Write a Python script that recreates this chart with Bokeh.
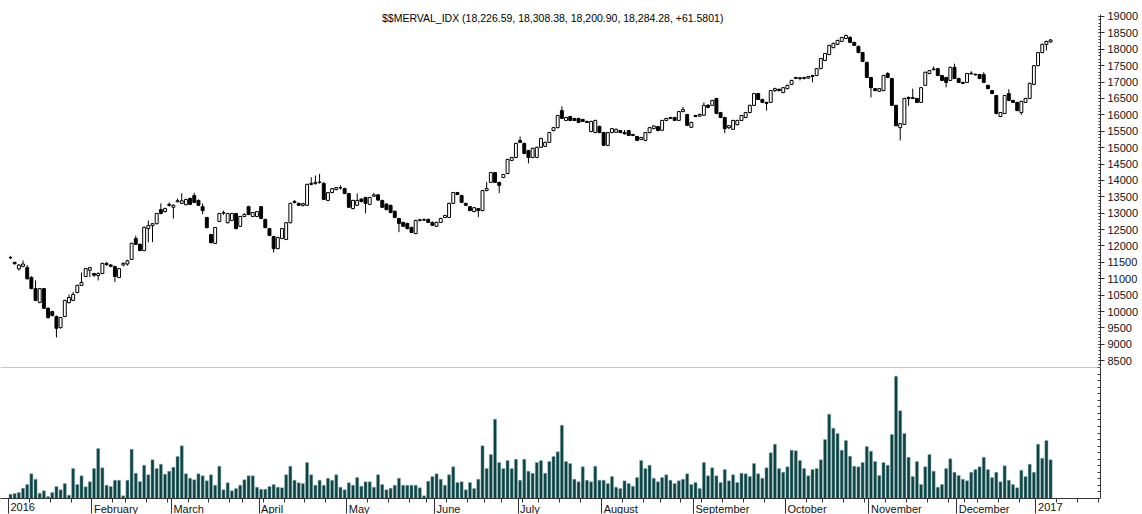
import numpy as np
from bokeh.plotting import figure
from bokeh.models import (FixedTicker, CustomJSTickFormatter, Label, Span,
                          Range1d, ColumnDataSource)
from bokeh.core.properties import value
from bokeh.layouts import column
from bokeh.embed import file_html
from bokeh.resources import INLINE

# ---------------- data ----------------
title_text = "$$MERVAL_IDX (18,226.59, 18,308.38, 18,200.90, 18,284.28, +61.5801)"

open_ = [
    11650, 11500, 11300, 11380, 11340, 11040, 10700, 10280, 10700, 10100,
    10000, 9850, 9510, 9850, 10270, 10340, 10580, 10800, 11070, 11260,
    11160, 11100, 11160, 11470, 11420, 11370, 11040, 11420, 11450, 11590,
    12230, 12050, 11860, 12530, 12620, 12680, 13110, 13050, 13270, 13180,
    13350, 13300, 13260, 13450, 13540, 13390, 13200, 12870, 12350, 12080,
    12750, 13000, 12710, 12780, 12990, 12600, 12900, 13200, 12900, 12900,
    13200, 12810, 12530, 12290, 11920, 12230, 12200, 12710, 13360, 13300,
    13240, 13240, 13880, 13900, 13940, 13910, 13390, 13630, 13720, 13780,
    13750, 13600, 13140, 13240, 13430, 13480, 13270, 13520, 13560, 13390,
    13280, 13240, 13060, 12840, 12720, 12690, 12565, 12380, 12780, 12800,
    12810, 12720, 12600, 12720, 12870, 12870, 13300, 13630, 13540, 13300,
    13200, 13050, 13140, 13080, 13690, 13940, 14240, 13940, 14090, 14210,
    14610, 14700, 15220, 15130, 14910, 14700, 14700, 15010, 15040, 15160,
    15520, 15610, 16130, 15830, 15950, 15890, 15890, 15860, 15800, 15490,
    15460, 15650, 15460, 15070, 15460, 15470, 15520, 15460, 15520, 15400,
    15340, 15250, 15220, 15460, 15580, 15640, 15530, 15830, 15890, 15920,
    15830, 16100, 16010, 15620, 15980, 15960, 15990, 16290, 16290, 16500,
    16070, 15920, 15610, 15560, 15700, 15830, 15920, 16070, 16290, 16650,
    16470, 16380, 16380, 16740, 16780, 16680, 16800, 16930, 17110, 17130,
    17110, 17120, 17170, 17200, 17410, 17660, 17840, 18050, 18150, 18240,
    18330, 18360, 18210, 18090, 17900, 17600, 17140, 16800, 16720, 16740,
    17260, 17110, 16290, 15610, 15710, 16530, 16500, 16500, 16380, 16900,
    17260, 17380, 17410, 17200, 17140, 17050, 17450, 17110, 16990, 16990,
    17250, 17240, 17230, 17230, 16900, 16740, 16590, 15950, 16040, 16650,
    16440, 16380, 16070, 16380, 16500, 16930, 17500, 17900, 18150, 18226.59,
]

high = [
    11700, 11520, 11450, 11560, 11420, 11080, 10950, 10720, 10720, 10130,
    10020, 9880, 9840, 10360, 10520, 10600, 10820, 11190, 11330, 11350,
    11180, 11200, 11490, 11520, 11450, 11400, 11330, 11500, 11580, 12100,
    12320, 12080, 12600, 12780, 12700, 13010, 13300, 13170, 13330, 13270,
    13450, 13610, 13440, 13480, 13620, 13420, 13300, 12890, 12370, 12580,
    13010, 13080, 13010, 13010, 13010, 12920, 13000, 13230, 13040, 13070,
    13220, 12830, 12550, 12310, 12280, 12550, 12730, 13320, 13400, 13330,
    13320, 13900, 14100, 14150, 14200, 13950, 13650, 13770, 13800, 13850,
    13780, 13620, 13410, 13600, 13460, 13500, 13500, 13620, 13580, 13410,
    13300, 13260, 13080, 12860, 12740, 12710, 12590, 12800, 12830, 12840,
    12840, 12750, 12740, 12860, 12950, 13320, 13650, 13650, 13560, 13320,
    13220, 13190, 13160, 13710, 13950, 14260, 14260, 13960, 14200, 14660,
    14720, 15150, 15340, 15150, 14930, 15000, 15030, 15300, 15180, 15480,
    15630, 16000, 16260, 15940, 15970, 15910, 15910, 15880, 15820, 15820,
    15850, 15670, 15480, 15480, 15600, 15580, 15540, 15540, 15540, 15420,
    15360, 15330, 15480, 15630, 15680, 15660, 15850, 15910, 15940, 15940,
    16120, 16240, 16030, 15790, 16000, 16040, 16380, 16330, 16460, 16520,
    16090, 15940, 15690, 15850, 15850, 16000, 16090, 16310, 16670, 16670,
    16490, 16400, 16760, 16830, 16800, 16850, 16920, 17070, 17160, 17150,
    17160, 17190, 17220, 17430, 17740, 17890, 18140, 18200, 18290, 18380,
    18450, 18400, 18230, 18110, 17920, 17620, 17160, 16820, 16820, 17220,
    17300, 17130, 16310, 15750, 16520, 16560, 16800, 16520, 16850, 17320,
    17370, 17480, 17430, 17220, 17160, 17470, 17560, 17130, 17010, 17280,
    17330, 17260, 17250, 17300, 16920, 16760, 16610, 16090, 16610, 16780,
    16460, 16400, 16430, 16520, 16980, 17520, 17920, 18170, 18260, 18308.38,
]

low = [
    11600, 11430, 11250, 11350, 10980, 10680, 10320, 10250, 10080, 9780,
    9850, 9210, 9480, 9830, 10250, 10320, 10560, 10780, 11050, 11050,
    11060, 10950, 11140, 11400, 11350, 10900, 11020, 11380, 11400, 11570,
    12030, 11840, 11840, 12110, 12120, 12660, 12970, 13020, 13200, 12840,
    13330, 13280, 13240, 13250, 13310, 13220, 12970, 12540, 12080, 12060,
    12730, 12950, 12690, 12760, 12510, 12580, 12880, 12940, 12880, 12880,
    12820, 12540, 12300, 11800, 11900, 12210, 12180, 12690, 13300, 13220,
    13200, 13220, 13850, 13880, 13900, 13400, 13370, 13610, 13700, 13720,
    13580, 13160, 13120, 13220, 13330, 13000, 13250, 13500, 13380, 13160,
    13090, 13000, 12850, 12420, 12580, 12510, 12390, 12360, 12750, 12760,
    12700, 12610, 12580, 12700, 12850, 12850, 13280, 13550, 13310, 13220,
    13060, 13030, 12880, 13060, 13670, 13920, 13920, 13610, 14070, 14190,
    14590, 14680, 15140, 14800, 14520, 14680, 14680, 14990, 15020, 15140,
    15500, 15590, 15870, 15810, 15810, 15810, 15750, 15780, 15750, 15470,
    15440, 15440, 15050, 15050, 15440, 15450, 15440, 15400, 15350, 15350,
    15200, 15230, 15200, 15440, 15560, 15500, 15510, 15810, 15870, 15810,
    15810, 16080, 15660, 15600, 15930, 15940, 15970, 16200, 16270, 16020,
    15900, 15440, 15560, 15540, 15680, 15810, 15900, 16050, 16270, 16450,
    16360, 16130, 16360, 16700, 16720, 16660, 16780, 16910, 17090, 17050,
    17080, 17100, 16990, 17180, 17390, 17640, 17820, 18030, 18130, 18220,
    18310, 18190, 18100, 17880, 17610, 17120, 16530, 16720, 16700, 16720,
    17120, 16270, 15650, 15220, 15690, 16280, 16480, 16360, 16360, 16880,
    17240, 17350, 17180, 17030, 16840, 17030, 17090, 16970, 16940, 16970,
    17230, 17200, 17090, 16970, 16780, 16630, 16020, 15930, 16020, 16420,
    16360, 16110, 16000, 16360, 16480, 16910, 17480, 17880, 17960, 18200.90,
]

close = [
    11640, 11460, 11420, 11450, 11000, 10700, 10340, 10700, 10100, 9820,
    9880, 9490, 9820, 10340, 10430, 10520, 10800, 10890, 11310, 11340,
    11110, 11160, 11470, 11430, 11380, 11070, 11310, 11470, 11550, 12080,
    12050, 11860, 12565, 12620, 12680, 12990, 12990, 13140, 13240, 13240,
    13380, 13380, 13420, 13270, 13330, 13240, 13080, 12560, 12100, 12565,
    12990, 13020, 12990, 12990, 12530, 12900, 12960, 12960, 13020, 13050,
    12840, 12560, 12320, 11920, 12260, 12530, 12710, 13300, 13330, 13240,
    13290, 13880, 13910, 13940, 13950, 13420, 13630, 13750, 13780, 13770,
    13600, 13180, 13390, 13390, 13360, 13300, 13480, 13560, 13400, 13180,
    13110, 13020, 12870, 12690, 12600, 12530, 12410, 12780, 12800, 12790,
    12720, 12630, 12720, 12840, 12930, 13300, 13630, 13570, 13330, 13240,
    13080, 13170, 13080, 13690, 13750, 14240, 13940, 13850, 14180, 14640,
    14700, 15130, 15160, 14820, 14700, 14980, 15010, 15280, 15160, 15460,
    15610, 15980, 15890, 15920, 15830, 15830, 15770, 15800, 15770, 15800,
    15830, 15460, 15070, 15460, 15580, 15560, 15460, 15420, 15370, 15370,
    15220, 15310, 15460, 15610, 15660, 15520, 15830, 15890, 15920, 15830,
    16100, 16160, 15680, 15770, 15950, 16010, 16290, 16230, 16440, 16040,
    15920, 15580, 15670, 15830, 15830, 15980, 16070, 16290, 16650, 16470,
    16380, 16350, 16740, 16800, 16740, 16830, 16900, 17050, 17140, 17110,
    17140, 17170, 17200, 17410, 17720, 17870, 18120, 18180, 18270, 18360,
    18420, 18210, 18120, 17900, 17630, 17140, 16830, 16740, 16800, 17200,
    17140, 16290, 15670, 15730, 16500, 16500, 16530, 16380, 16830, 17300,
    17350, 17400, 17200, 17050, 16990, 17450, 17110, 16990, 16960, 17260,
    17270, 17220, 17110, 16990, 16800, 16650, 16040, 16070, 16590, 16440,
    16380, 16130, 16410, 16500, 16960, 17500, 17900, 18150, 18240, 18284.28,
]

volume = [
    13, 15, 18, 31, 42, 74, 58, 16, 23, 6, 18, 36, 26, 45, 10, 90, 42, 68, 35, 50,
    90, 150, 92, 40, 36, 55, 55, 8, 55, 148, 76, 51, 100, 71, 116, 90, 103, 73, 82, 94,
    126, 158, 74, 61, 56, 74, 68, 53, 71, 40, 97, 26, 47, 23, 30, 40, 56, 68, 68, 34,
    28, 28, 36, 42, 34, 32, 71, 97, 55, 47, 45, 108, 71, 40, 55, 40, 61, 55, 71, 34,
    26, 47, 40, 63, 37, 50, 50, 34, 71, 42, 26, 31, 40, 61,
    40, 40, 40, 40, 32, 8, 52, 66, 74, 58,
    40, 71, 95, 48, 50, 26, 48, 30, 58, 158,
    90, 132, 238, 108, 90, 114, 90, 118, 55, 118,
    82, 76, 108, 114, 76, 111, 126, 140, 220, 111,
    105, 58, 50, 95, 55, 50, 97, 55, 55, 45,
    66, 34, 30, 53, 45, 37, 63, 114, 90, 100,
    61, 50, 63, 71, 55, 45, 53, 58, 74, 42,
    48, 30, 108, 68, 92, 68, 48, 87, 53, 71,
    48, 76, 74, 66, 105, 74, 61, 92, 137, 163,
    90,
    79, 95, 145, 143, 114, 90, 68, 87, 90, 116,
    177, 253, 211, 195, 145, 174, 127, 97, 95, 108,
    156, 142, 111, 69, 108, 100, 192, 367, 263, 195,
    124, 66, 111, 42, 95, 132, 82, 34, 42, 90,
    119, 79, 69, 58, 53, 79, 87, 95, 124, 87,
    63, 79, 50, 98, 55, 42, 32, 85, 66, 103,
    79, 163, 121, 174, 116,
]

month_labels = ["2016", "February", "March", "April", "May", "June", "July",
                "August", "September", "October", "November", "December", "2017"]
# month boundaries, in trading-day index units
month_ticks = [-0.5, 19.5, 38.5, 59.5, 80.5, 101.5, 121.5, 141.5, 163.5,
               185.5, 205.5, 226.5, 245.5]
# week boundaries (first trading day of each week)
week_ticks = [4.5, 9.5, 14.5, 24.5, 27.5, 32.5, 37.5, 42.5, 47.5, 52.5, 55.5,
              60.5, 65.5, 70.5, 75.5, 85.5, 90.5, 95.5, 99.5, 104.5, 109.5,
              113.5, 117.5, 122.5, 126.5, 131.5, 136.5, 146.5, 151.5, 155.5,
              160.5, 165.5, 170.5, 175.5, 180.5, 190.5, 194.5, 199.5, 204.5,
              209.5, 214.5, 219.5, 224.5, 228.5, 231.5, 236.5, 241.5, 250.5,
              255.5, 260.5]

price_major = list(range(8500, 19001, 500))
price_minor = list(range(8300, 19050, 100))

# ---------------- layout constants ----------------
FONT = "Liberation Sans"
X0, X1 = -2.39, 260.95
P0, P1 = 8294, 19488
VMAX = 393
AXC = "#333333"

idx = np.arange(len(close))
o = np.array(open_, dtype=float)
c = np.array(close, dtype=float)
up = c >= o

src_up = ColumnDataSource(dict(x=idx[up], top=c[up], bottom=o[up]))
src_dn = ColumnDataSource(dict(x=idx[~up], top=o[~up], bottom=c[~up]))
src_w = ColumnDataSource(dict(x=idx, h=high, l=low))
src_v = ColumnDataSource(dict(x=idx, v=volume))
src_m = ColumnDataSource(dict(x=np.array(month_ticks) + 0.5, t=month_labels))

xr = Range1d(X0, X1)
empty = CustomJSTickFormatter(code="return ''")


def clean(fig):
    fig.outline_line_color = None
    fig.grid.visible = False
    fig.background_fill_color = "white"
    fig.border_fill_color = "white"


# ---------------- price pane ----------------
p = figure(frame_width=1100, frame_height=367, x_range=xr,
           y_range=Range1d(P0, P1), output_backend="svg",
           toolbar_location=None, x_axis_location=None,
           y_axis_location="right", min_border_left=0, min_border_right=42,
           min_border_top=0, min_border_bottom=0)
clean(p)

ya = p.yaxis[0]
ya.ticker = FixedTicker(ticks=price_major, minor_ticks=price_minor)
ya.bounds = (P0, 19060)
ya.major_tick_in = 2
ya.major_tick_out = 4
ya.minor_tick_in = 2
ya.minor_tick_out = 0
ya.major_label_standoff = 3
ya.major_label_text_font = FONT
ya.major_label_text_font_size = "11px"
ya.major_label_text_color = "#111111"
ya.axis_line_color = AXC
ya.major_tick_line_color = AXC
ya.minor_tick_line_color = AXC

p.segment(x0="x", y0="h", x1="x", y1="l", source=src_w,
          line_color="black", line_width=1)
p.vbar(x="x", top="top", bottom="bottom", width=0.7, source=src_up,
       fill_color="white", line_color="black", line_width=1)
p.vbar(x="x", top="top", bottom="bottom", width=0.7, source=src_dn,
       fill_color="black", line_color="black", line_width=1)

p.add_layout(Label(x=129.8, y=19122, text=title_text, text_align="center",
                   text_baseline="top", text_font=FONT,
                   text_font_size="10.5px", text_color="black"))

# ---------------- volume pane ----------------
v = figure(frame_width=1100, frame_height=131, x_range=xr,
           y_range=Range1d(0, VMAX), output_backend="svg",
           toolbar_location=None, x_axis_location=None,
           y_axis_location="right", min_border_left=0, min_border_right=42,
           min_border_top=0, min_border_bottom=0)
clean(v)

v.vbar(x="x", top="v", bottom=0, width=0.74, source=src_v,
       fill_color="#0b4345", line_color="#8fb0b0", line_width=0.5)

vy = v.yaxis[0]
vy.ticker = FixedTicker(ticks=list(np.linspace(0, VMAX, 21)), minor_ticks=[])
vy.formatter = empty
vy.major_tick_in = 3
vy.major_tick_out = 0
vy.major_label_standoff = 0
vy.axis_line_color = AXC
vy.major_tick_line_color = AXC

v.add_layout(Span(location=VMAX, dimension="width", line_color="#8c8c8c",
                  line_width=1))

# ---------------- date axis strip ----------------
s = figure(frame_width=1100, frame_height=16, x_range=xr,
           y_range=Range1d(0, 16), output_backend="svg",
           toolbar_location=None, x_axis_location="above",
           y_axis_location=None, min_border_left=0, min_border_right=42,
           min_border_top=0, min_border_bottom=0)
clean(s)

xa = s.xaxis[0]
xa.ticker = FixedTicker(ticks=month_ticks, minor_ticks=week_ticks)
xa.formatter = empty
xa.major_tick_in = 15
xa.major_tick_out = 0
xa.minor_tick_in = 4
xa.minor_tick_out = 0
xa.major_label_standoff = 0
xa.axis_line_color = AXC
xa.major_tick_line_color = AXC
xa.minor_tick_line_color = AXC

s.text(x="x", y=12, text="t", source=src_m, text_align="left",
       text_baseline="top", text_font=value(FONT), text_font_size="11px",
       text_color="#111111")

layout = column(p, v, s, spacing=0)
open("out.html", "w").write(file_html(layout, INLINE))
